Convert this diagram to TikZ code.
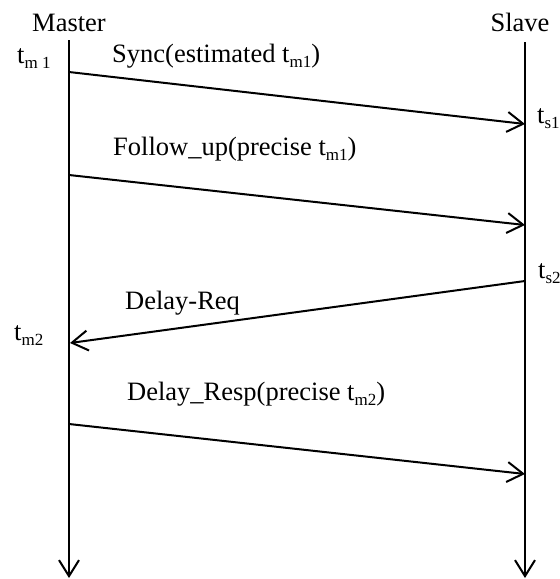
\documentclass[tikz,border=0pt]{standalone}
\usepackage{fontspec}
\setmainfont{Liberation Serif}
\usetikzlibrary{arrows.meta}
\newcommand{\lowidx}[1]{\raisebox{-0.22em}{\fontsize{17}{17}\selectfont #1}}
\tikzset{
  lifeline/.style={line width=2pt, -{Straight Barb[length=16pt, width=20pt, line width=2pt]}},
  msg/.style={line width=2pt, -{Straight Barb[length=16pt, width=20pt, line width=2pt]}},
  lbl/.style={anchor=base west, inner sep=0pt, font=\fontsize{26.5}{30}\selectfont},
  title/.style={anchor=base, inner sep=0pt, font=\fontsize{26.5}{30}\selectfont}
}
\begin{document}
\begin{tikzpicture}[x=1pt, y=-1pt]
  \useasboundingbox (0,0) rectangle (560,579);

  % lifelines
  \coordinate (mtop) at (69,40);
  \coordinate (mbot) at (69,578);
  \coordinate (stop) at (525,42);
  \coordinate (sbot) at (525,578);
  \draw[lifeline] (mtop) -- (mbot);
  \draw[lifeline] (stop) -- (sbot);
  \node[title] (master) at (69,31) {Master};
  \node[title] (slave) at (520,31) {Slave};

  % message end points
  \coordinate (tm1) at (69,72);
  \coordinate (ts1) at (525,124);
  \coordinate (fu0) at (69,175);
  \coordinate (fu1) at (525,225);
  \coordinate (ts2) at (525,281);
  \coordinate (tm2) at (70,343);
  \coordinate (dr0) at (69,424);
  \coordinate (dr1) at (525,474);

  \draw[msg] (tm1) -- (ts1);
  \draw[msg] (fu0) -- (fu1);
  \draw[msg] (ts2) -- (tm2);
  \draw[msg] (dr0) -- (dr1);

  % timestamps
  \node[lbl] (ltm1) at (17,63) {t\lowidx{m 1}};
  \node[lbl] (lts1) at (537,123) {t\lowidx{s1}};
  \node[lbl] (lts2) at (538,278) {t\lowidx{s2}};
  \node[lbl] (ltm2) at (14,340) {t\lowidx{m2}};

  % message labels
  \node[lbl] (lsync) at (112,62) {Sync(estimated t\lowidx{m1})};
  \node[lbl] (lfu) at (113,155) {Follow\_up(precise t\lowidx{m1})};
  \node[lbl] (ldreq) at (125,309) {Delay-Req};
  \node[lbl] (ldresp) at (127,400) {Delay\_Resp(precise t\lowidx{m2})};
\end{tikzpicture}
\end{document}
